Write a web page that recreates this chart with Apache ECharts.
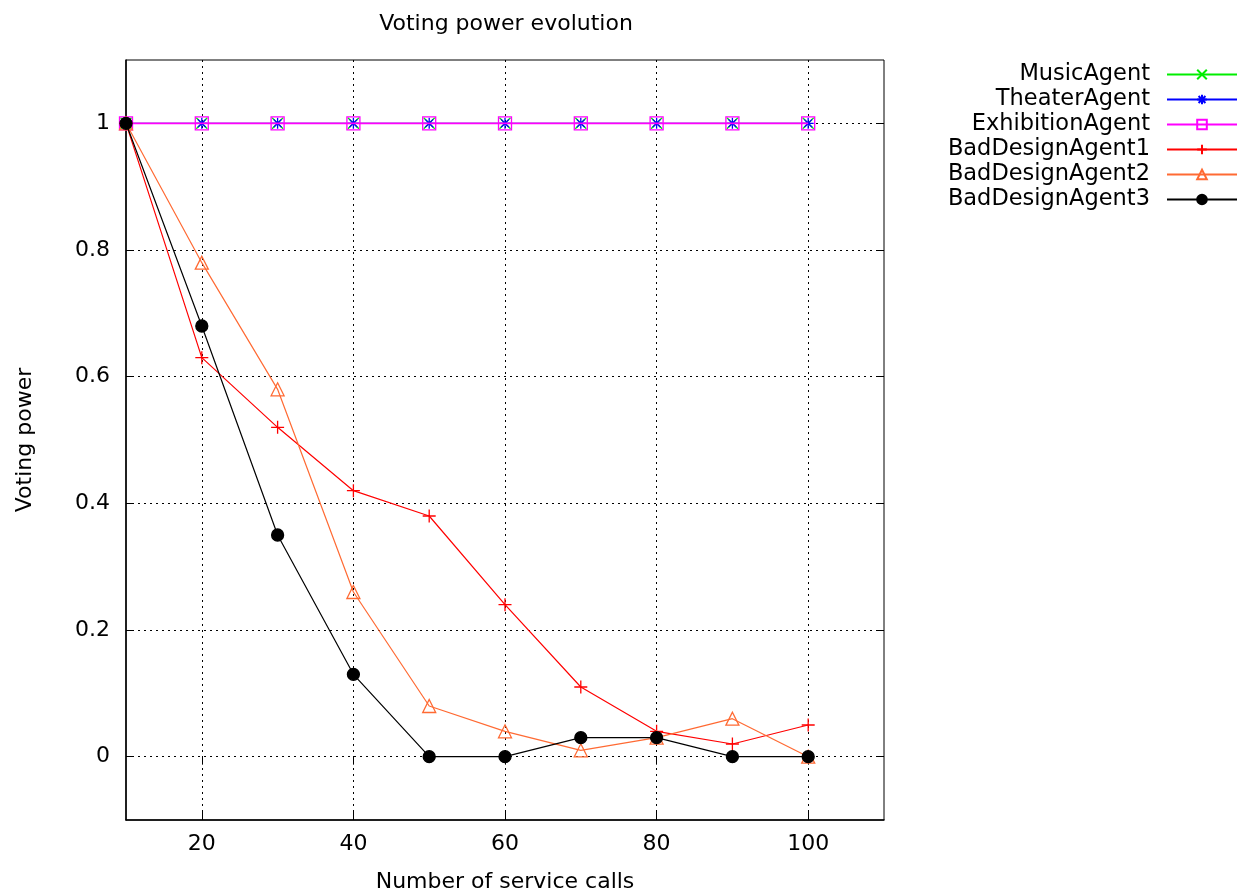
<!DOCTYPE html>
<html>
<head>
<meta charset="utf-8">
<title>Voting power evolution</title>
<script src="https://cdn.jsdelivr.net/npm/echarts@6/dist/echarts.min.js"></script>
<style>
    html, body { margin: 0; padding: 0; background: #fff; }
    #grafico { width: 1238px; height: 895px; }
</style>
</head>
<body>
<div id="grafico"></div>
<script>
// chamadas de servico (eixo x)
var chamadas = [10, 20, 30, 40, 50, 60, 70, 80, 90, 100];

var musicAgent      = [1, 1, 1, 1, 1, 1, 1, 1, 1, 1];
var theaterAgent    = [1, 1, 1, 1, 1, 1, 1, 1, 1, 1];
var exhibitionAgent = [1, 1, 1, 1, 1, 1, 1, 1, 1, 1];
var badDesign1      = [1, 0.63, 0.52, 0.42, 0.38, 0.24, 0.11, 0.04, 0.02, 0.05];
var badDesign2      = [1, 0.78, 0.58, 0.26, 0.08, 0.04, 0.01, 0.03, 0.06, 0];
var badDesign3      = [1, 0.68, 0.35, 0.13, 0, 0, 0.03, 0.03, 0, 0];

var ticksX = [20, 40, 60, 80, 100];
var ticksY = [0, 0.2, 0.4, 0.6, 0.8, 1];

var fonte = 'DejaVu Sans';

function pares(valores) {
    return chamadas.map(function (x, i) { return [x, valores[i]]; });
}

function serie(nome, valores, cor, simbolo, tamanho, preenchido, z, espessura) {
    return {
        name: nome,
        type: 'line',
        z: z,
        data: pares(valores),
        symbol: simbolo,
        symbolSize: tamanho,
        showAllSymbol: true,
        animation: false,
        lineStyle: { color: cor, width: espessura },
        itemStyle: {
            color: preenchido ? cor : 'rgba(0,0,0,0)',
            borderColor: cor,
            borderWidth: 1.3
        },
        emphasis: { disabled: true }
    };
}

var simboloX = 'path://M0,0L10,10M10,0L0,10';
var simboloAsterisco = 'path://M0,0L10,10M10,0L0,10M5,-2L5,12M-2,5L12,5';
var simboloMais = 'path://M5,0L5,10M0,5L10,5';

var eixoTexto = { fontFamily: fonte, fontSize: 22, color: '#000' };

var grafico = echarts.init(document.querySelector('#grafico'));

grafico.setOption({
    backgroundColor: '#fff',
    title: {
        text: 'Voting power evolution',
        left: 501,
        textAlign: 'center',
        top: 8,
        textStyle: { fontFamily: fonte, fontSize: 22, fontWeight: 'normal', color: '#000' }
    },
    legend: {
        orient: 'vertical',
        right: 0,
        top: 63,
        padding: 0,
        align: 'right',
        itemGap: 2,
        itemWidth: 70,
        itemHeight: 12,
        textStyle: { fontFamily: fonte, fontSize: 22.5, color: '#000', padding: [0, 12, 0, 0] },
        data: ['MusicAgent', 'TheaterAgent', 'ExhibitionAgent', 'BadDesignAgent1', 'BadDesignAgent2', 'BadDesignAgent3']
    },
    grid: {
        left: 126,
        right: 354,
        top: 60,
        bottom: 75,
        outerBoundsMode: 'none',
        show: true,
        borderColor: '#000',
        borderWidth: 1
    },
    xAxis: [{
        type: 'value',
        min: 10,
        max: 110,
        name: 'Number of service calls',
        nameLocation: 'middle',
        nameGap: 51,
        nameTextStyle: eixoTexto,
        axisLine: { show: true, onZero: false, lineStyle: { color: '#000', width: 1.5 } },
        axisTick: { show: true, inside: true, length: 8, customValues: ticksX, lineStyle: { color: '#000' } },
        axisLabel: { customValues: ticksX, margin: 13, fontFamily: fonte, fontSize: 22, color: '#000' },
        splitLine: { show: true, lineStyle: { color: '#000', type: [2, 4], width: 1 } }
    }, {
        type: 'value',
        min: 10,
        max: 110,
        position: 'top',
        axisLine: { show: false },
        axisTick: { show: true, inside: true, length: 8, customValues: ticksX, lineStyle: { color: '#000' } },
        axisLabel: { show: false },
        splitLine: { show: false }
    }],
    yAxis: [{
        type: 'value',
        min: -0.1,
        max: 1.1,
        name: 'Voting power',
        nameLocation: 'middle',
        nameGap: 90,
        nameTextStyle: eixoTexto,
        axisLine: { show: true, onZero: false, lineStyle: { color: '#000', width: 1.5 } },
        axisTick: { show: true, inside: true, length: 8, customValues: ticksY, lineStyle: { color: '#000' } },
        axisLabel: { customValues: ticksY, margin: 16, fontFamily: fonte, fontSize: 22, color: '#000' },
        splitLine: { show: true, lineStyle: { color: '#000', type: [2, 4], width: 1 } }
    }, {
        type: 'value',
        min: -0.1,
        max: 1.1,
        position: 'right',
        axisLine: { show: false },
        axisTick: { show: true, inside: true, length: 8, customValues: ticksY, lineStyle: { color: '#000' } },
        axisLabel: { show: false },
        splitLine: { show: false }
    }],
    series: [
        serie('MusicAgent', musicAgent, '#00ee00', simboloX, 11, false, 2, 1),
        serie('TheaterAgent', theaterAgent, '#0000ff', simboloAsterisco, 11, false, 3, 1),
        serie('ExhibitionAgent', exhibitionAgent, '#ff00ff', 'rect', 13, false, 4, 1.8),
        serie('BadDesignAgent1', badDesign1, '#ff0000', simboloMais, 13, false, 5, 1.2),
        serie('BadDesignAgent2', badDesign2, '#ff6a33', 'triangle', 13, false, 6, 1.2),
        serie('BadDesignAgent3', badDesign3, '#000000', 'circle', 12, true, 7, 1.2)
    ]
});
</script>
</body>
</html>
